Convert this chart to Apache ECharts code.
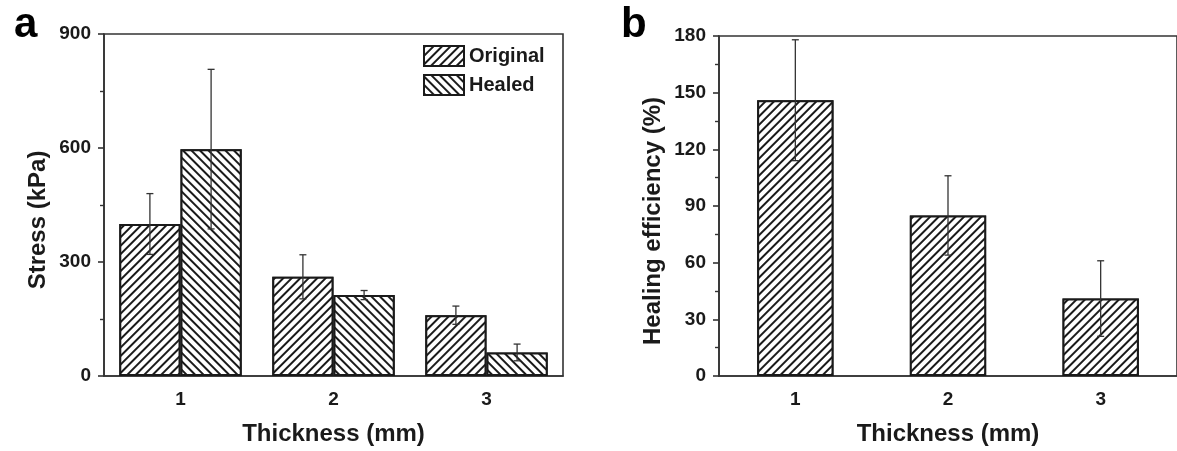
<!DOCTYPE html>
<html>
<head>
<meta charset="utf-8">
<title>Stress and healing efficiency</title>
<script src="https://cdn.jsdelivr.net/npm/echarts@6/dist/echarts.min.js"></script>
<style>
  html, body { margin: 0; padding: 0; background: #fff; }
  #chart { width: 1177px; height: 451px; }
</style>
</head>
<body>
<div id="chart"></div>
<script>
// data
var thickness = ['1', '2', '3'];
var stressOriginal = [400, 261, 160];
var stressOriginalErr = [80, 58, 24];
var stressHealed = [597, 213, 62];
var stressHealedErr = [210, 12, 22];
var efficiency = [146, 85, 41];
var efficiencyErr = [32, 21, 20];

var FONT = '"Liberation Sans", Arial, sans-serif';
var INK = '#1a1a1a';

var myChart = echarts.init(document.getElementById('chart'));

// hatch fill, rot > 0 gives "\" , rot < 0 gives "/"
function hatch(rot, gap) {
    return {
        symbol: 'rect',
        symbolSize: 1,
        dashArrayX: [1, 0],
        dashArrayY: [1.1, gap],
        rotation: rot,
        color: INK,
        backgroundColor: '#fff'
    };
}

function errData(vals, errs) {
    return vals.map(function (v, i) { return [i, v, errs[i]]; });
}

// shift: fraction of the category band the bar centre sits from the tick
function errRender(shift) {
    return function (params, api) {
        var idx = api.value(0), v = api.value(1), e = api.value(2);
        var band = api.size([1, 0])[0];
        var hi = api.coord([idx, v + e]);
        var lo = api.coord([idx, v - e]);
        var x = hi[0] + band * shift;
        var cap = 3.5;
        var st = { stroke: '#333', lineWidth: 1.3 };
        return {
            type: 'group',
            children: [
                { type: 'line', shape: { x1: x, y1: hi[1], x2: x, y2: lo[1] }, style: st },
                { type: 'line', shape: { x1: x - cap, y1: hi[1], x2: x + cap, y2: hi[1] }, style: st },
                { type: 'line', shape: { x1: x - cap, y1: lo[1], x2: x + cap, y2: lo[1] }, style: st }
            ]
        };
    };
}

function xAxisOf(gridIndex) {
    return {
        type: 'category',
        gridIndex: gridIndex,
        data: thickness,
        name: 'Thickness (mm)',
        nameLocation: 'middle',
        nameGap: 46,
        nameTextStyle: { fontFamily: FONT, fontWeight: 'bold', fontSize: 24, color: INK },
        axisLine: { lineStyle: { color: '#333', width: 1.6 } },
        axisTick: { alignWithLabel: true, length: 6, lineStyle: { color: '#333', width: 1.6 } },
        axisLabel: { fontFamily: FONT, fontWeight: 'bold', fontSize: 19, color: INK, margin: 14 },
        splitLine: { show: false }
    };
}

// second axis only for the short ticks between categories
function boundaryAxisOf(gridIndex) {
    return {
        type: 'category',
        gridIndex: gridIndex,
        data: thickness,
        axisLine: { show: false },
        axisTick: { length: 3, lineStyle: { color: '#333', width: 1.6 } },
        axisLabel: { show: false },
        splitLine: { show: false }
    };
}

function yAxisOf(gridIndex, max, interval, name, gap) {
    return {
        type: 'value',
        gridIndex: gridIndex,
        min: 0,
        max: max,
        interval: interval,
        name: name,
        nameLocation: 'middle',
        nameGap: gap,
        nameTextStyle: { fontFamily: FONT, fontWeight: 'bold', fontSize: 24, color: INK, padding: [0, 30, 0, 0] },
        axisLine: { show: true, lineStyle: { color: '#333', width: 1.6 } },
        axisTick: { show: true, length: 6, lineStyle: { color: '#333', width: 1.6 } },
        minorTick: { show: true, splitNumber: 2, length: 4, lineStyle: { color: '#333', width: 1.4 } },
        axisLabel: { fontFamily: FONT, fontWeight: 'bold', fontSize: 19, color: INK, margin: 13 },
        splitLine: { show: false }
    };
}

var barStyle = { color: '#fff', borderColor: INK, borderWidth: 2 };

var option = {
    animation: false,
    backgroundColor: '#fff',
    grid: [
        { left: 104, top: 34, width: 459, height: 342, show: true, borderColor: '#333', borderWidth: 1.6, backgroundColor: 'transparent' },
        { left: 719, top: 36, width: 459, height: 343, show: true, borderColor: '#333', borderWidth: 1.6, backgroundColor: 'transparent' }
    ],
    legend: {
        data: ['Original', 'Healed'],
        orient: 'vertical',
        left: 418,
        top: 40,
        itemWidth: 40,
        itemHeight: 20,
        itemGap: 7,
        icon: 'rect',
        textStyle: { fontFamily: FONT, fontWeight: 'bold', fontSize: 20, color: INK }
    },
    xAxis: [xAxisOf(0), xAxisOf(1), boundaryAxisOf(0), boundaryAxisOf(1)],
    yAxis: [
        yAxisOf(0, 900, 300, 'Stress (kPa)', 54),
        yAxisOf(1, 180, 30, 'Healing efficiency (%)', 54)
    ],
    graphic: [
        { type: 'text', left: 14, top: 4, style: { text: 'a', font: 'bold 42px ' + FONT, fill: '#000' } },
        { type: 'text', left: 621, top: 4, style: { text: 'b', font: 'bold 42px ' + FONT, fill: '#000' } }
    ],
    series: [
        {
            name: 'Original', type: 'bar', xAxisIndex: 0, yAxisIndex: 0,
            data: stressOriginal, barGap: '0%', barCategoryGap: '20%',
            itemStyle: Object.assign({ decal: hatch(-Math.PI / 4, 3.2) }, barStyle)
        },
        {
            name: 'Healed', type: 'bar', xAxisIndex: 0, yAxisIndex: 0,
            data: stressHealed, barGap: '0%', barCategoryGap: '20%',
            itemStyle: Object.assign({ decal: hatch(Math.PI / 4, 3.8) }, barStyle)
        },
        {
            name: 'Efficiency', type: 'bar', xAxisIndex: 1, yAxisIndex: 1,
            data: efficiency, barCategoryGap: '50%',
            itemStyle: Object.assign({ decal: hatch(-Math.PI / 4, 3.2) }, barStyle)
        },
        {
            type: 'custom', xAxisIndex: 0, yAxisIndex: 0, z: 5,
            data: errData(stressOriginal, stressOriginalErr), renderItem: errRender(-0.2)
        },
        {
            type: 'custom', xAxisIndex: 0, yAxisIndex: 0, z: 5,
            data: errData(stressHealed, stressHealedErr), renderItem: errRender(0.2)
        },
        {
            type: 'custom', xAxisIndex: 1, yAxisIndex: 1, z: 5,
            data: errData(efficiency, efficiencyErr), renderItem: errRender(0)
        }
    ]
};

option && myChart.setOption(option);
</script>
</body>
</html>
